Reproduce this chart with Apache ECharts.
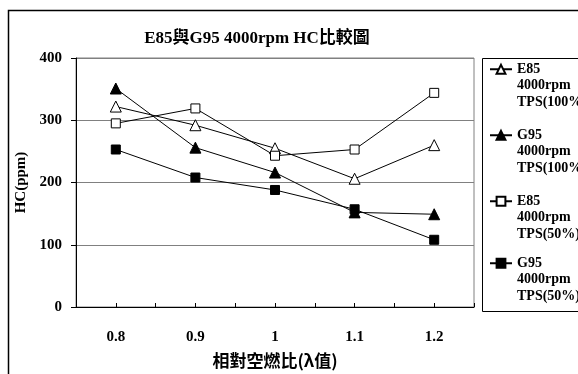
<!DOCTYPE html>
<html>
<head>
<meta charset="utf-8">
<script src="https://cdn.jsdelivr.net/npm/echarts@6/dist/echarts.min.js"></script>
<style>
html,body{margin:0;padding:0;background:#fff;}
#chart{width:578px;height:374px;}
</style>
</head>
<body>
<div id="chart"></div>
<script>
const categories = ['0.8', '0.9', '1', '1.1', '1.2'];
const e85Tps100 = [322, 292, 255, 206, 260];
const g95Tps100 = [351, 256, 216, 152, 149];
const e85Tps50 = [295, 319, 243, 253, 344];
const g95Tps50 = [253, 208, 188, 157, 108];
const seriesNames = [
  'E85\n4000rpm\nTPS(100%)',
  'G95\n4000rpm\nTPS(100%)',
  'E85\n4000rpm\nTPS(50%)',
  'G95\n4000rpm\nTPS(50%)'
];
const yTicks = [0, 100, 200, 300, 400];

const serif = "'Liberation Serif', 'Noto Sans CJK TC', serif";
const cjk = "'Noto Sans CJK TC', 'Liberation Serif', sans-serif";

function pts(arr) { return arr.map((v, i) => [i, v]); }

const chart = echarts.init(document.getElementById('chart'), null, {renderer: 'canvas'});

function mkSeries(name, data, symbol, filled, size) {
  return {
    name: name,
    type: 'line',
    data: pts(data),
    symbol: symbol,
    symbolSize: size,
    showAllSymbol: true,
    lineStyle: {color: '#000', width: 1},
    itemStyle: {color: filled ? '#000' : '#fff', borderColor: '#000', borderWidth: 1},
    emphasis: {disabled: true},
    animation: false,
    z: 3
  };
}

function mkLegend(name, top) {
  return {
    data: [name],
    left: 484,
    top: top,
    orient: 'vertical',
    itemWidth: 22,
    itemHeight: 11,
    itemGap: 0,
    selectedMode: false,
    formatter: function (n) { return '\n\n' + n; },
    textStyle: {
      fontFamily: serif,
      fontWeight: 'bold',
      fontSize: 14,
      color: '#000',
      lineHeight: 16.5
    }
  };
}

chart.setOption({
  animation: false,
  backgroundColor: '#fff',
  title: {
    text: 'E85與G95 4000rpm HC比較圖',
    left: 252,
    textAlign: 'center',
    top: 25,
    textStyle: {fontFamily: serif, fontWeight: 'bold', fontSize: 17, color: '#000'}
  },
  legend: [
    mkLegend(seriesNames[0], 23),
    mkLegend(seriesNames[1], 89),
    mkLegend(seriesNames[2], 155),
    mkLegend(seriesNames[3], 217)
  ],
  grid: {
    left: 76, right: 104, top: 58, bottom: 64,
    show: true, borderColor: '#808080', borderWidth: 1
  },
  xAxis: {
    type: 'value',
    min: -0.5,
    max: 4.5,
    interval: 0.5,
    name: '相對空燃比(λ值)',
    nameLocation: 'middle',
    nameGap: 45,
    nameTextStyle: {fontFamily: cjk, fontWeight: 'bold', fontSize: 17, color: '#000'},
    axisLine: {show: true, onZero: false, lineStyle: {color: '#000', width: 1}},
    axisTick: {show: true, inside: true, length: 4, lineStyle: {color: '#000'}},
    splitLine: {show: false},
    axisLabel: {
      margin: 23,
      fontFamily: serif, fontWeight: 'bold', fontSize: 15, color: '#000',
      formatter: function (v) {
        const r = Math.round(v);
        return Math.abs(v - r) < 1e-6 && r >= 0 && r < categories.length ? categories[r] : '';
      }
    }
  },
  yAxis: {
    type: 'value',
    min: yTicks[0],
    max: yTicks[yTicks.length - 1],
    interval: 100,
    name: 'HC(ppm)',
    nameLocation: 'middle',
    nameGap: 34,
    nameRotate: 90,
    nameTextStyle: {fontFamily: serif, fontWeight: 'bold', fontSize: 15, color: '#000'},
    axisLine: {show: true, onZero: false, lineStyle: {color: '#000', width: 1}},
    axisTick: {show: true, inside: false, length: 5, lineStyle: {color: '#000'}},
    splitLine: {show: true, lineStyle: {color: '#808080', width: 1}},
    axisLabel: {margin: 14, fontFamily: serif, fontWeight: 'bold', fontSize: 15, color: '#000'}
  },
  graphic: [
    {type: 'rect', shape: {x: 8.5, y: 10.5, width: 620, height: 420}, style: {fill: null, stroke: '#000', lineWidth: 1.5}, z: 10, silent: true},
    {type: 'rect', shape: {x: 482.5, y: 58.5, width: 120, height: 253}, style: {fill: null, stroke: '#000', lineWidth: 1}, z: 10, silent: true}
  ],
  series: [
    mkSeries(seriesNames[0], e85Tps100, 'triangle', false, 11),
    mkSeries(seriesNames[1], g95Tps100, 'triangle', true, 11),
    mkSeries(seriesNames[2], e85Tps50, 'rect', false, 9),
    mkSeries(seriesNames[3], g95Tps50, 'rect', true, 9)
  ]
});
</script>
</body>
</html>
